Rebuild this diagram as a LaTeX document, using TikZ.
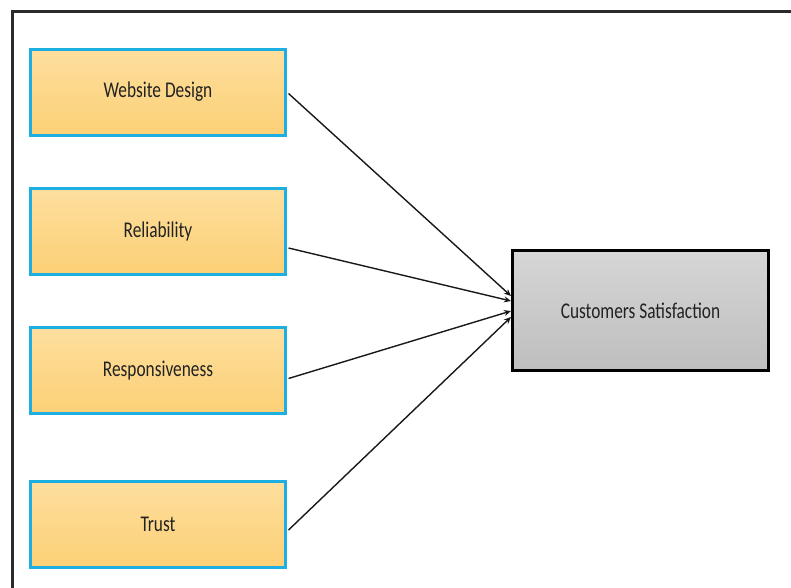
\documentclass[tikz,border=0pt]{standalone}
\usepackage{fontspec}
\usepackage{graphicx}
\setmainfont{Carlito}
\usetikzlibrary{arrows.meta}
\definecolor{boxblue}{HTML}{1DAEE2}
\definecolor{boxtop}{HTML}{FDDF9E}
\definecolor{boxbot}{HTML}{FCD076}
\definecolor{graytop}{HTML}{D6D6D6}
\definecolor{graybot}{HTML}{BEBEBE}
\definecolor{frame}{HTML}{2B2B2B}
\definecolor{ink}{HTML}{222222}
% narrow, tall lettering used in every box
\newcommand{\narrowlabel}[1]{\scalebox{0.77}[1]{#1}}
\tikzset{
  factor/.style={draw=boxblue, line width=3pt, top color=boxtop, bottom color=boxbot,
    minimum width=255pt, minimum height=86pt, inner sep=0pt,
    font=\fontsize{22.5}{26}\selectfont, text=ink},
  outcome/.style={draw=black, line width=3pt, top color=graytop, bottom color=graybot,
    minimum width=256pt, minimum height=120pt, inner sep=0pt,
    font=\fontsize{22.5}{26}\selectfont, text=ink},
  link/.style={draw=black!90, line width=1.4pt, -{Stealth[length=7pt,width=6pt]}}
}
\begin{document}
\begin{tikzpicture}[x=1pt,y=-1pt]
  \useasboundingbox (0,0) rectangle (791,587);
  % outer frame, open on the right and bottom
  \draw[frame, line width=3pt] (12,590) -- (12,11) -- (795,11);

  \node[factor] (web)  at (158,92)  {\narrowlabel{Website Design}};
  \node[factor] (rel)  at (158,231)   {\narrowlabel{Reliability}};
  \node[factor] (resp) at (158,370.5) {\narrowlabel{Responsiveness}};
  \node[factor] (trust) at (158,524)  {\narrowlabel{Trust}};

  \node[outcome] (cs) at (640.5,310.5) {\narrowlabel{Customers Satisfaction}};

  \coordinate (t1) at (511,296);
  \coordinate (t2) at (511,301);
  \coordinate (t3) at (511,311);
  \coordinate (t4) at (511,317);

  \draw[link] (web.east)   ++(1.5,1.5) -- (t1);
  \draw[link] (rel.east)   ++(1.5,17) -- (t2);
  \draw[link] (resp.east)  ++(1.5,8) -- (t3);
  \draw[link] (trust.east) ++(1.5,6) -- (t4);
\end{tikzpicture}
\end{document}
